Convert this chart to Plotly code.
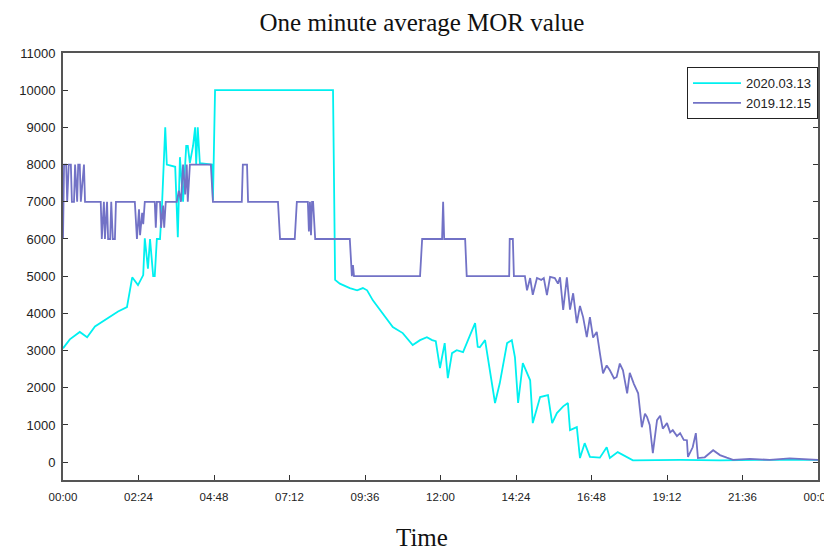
import plotly.graph_objects as go

# ---- data (minute of day, value) ----
cyan_min = [0, 13, 32, 46, 61, 90, 105, 122, 132, 143, 153, 156, 162, 166, 172, 175, 179, 185,
            189, 195, 198, 214, 219, 223, 229, 235, 238, 242, 248, 252, 254, 257, 261, 284, 286,
            290, 515, 519, 528, 547, 561, 572, 580, 591, 610, 629, 648, 667, 681, 694, 704, 711,
            719, 728, 734, 742, 751, 763, 776, 786, 791, 795, 805, 814, 824, 833, 847, 856, 862,
            868, 877, 891, 896, 910, 925, 933, 942, 954, 963, 967, 980, 986, 995, 1005, 1024,
            1037, 1043, 1058, 1076, 1087, 1177, 1253, 1329, 1440]
cyan_val = [3060, 3300, 3500, 3360, 3650, 3900, 4050, 4170, 4970, 4760, 5030, 6020, 5200, 6000,
            5000, 5000, 6000, 6000, 6960, 9000, 8000, 7940, 6050, 8200, 7000, 8500, 8500, 8040,
            8500, 9000, 8000, 9000, 8040, 8000, 7040, 10000, 10000, 4900, 4800, 4680, 4620, 4680,
            4620, 4350, 4000, 3630, 3470, 3150, 3280, 3360, 3280, 3250, 2530, 3200, 2260, 2930,
            3010, 2960, 3400, 3740, 3100, 3090, 3280, 2470, 1590, 2120, 3200, 3280, 2820, 1590,
            2660, 2200, 1050, 1750, 1800, 1050, 1320, 1500, 1590, 860, 940, 110, 510, 140, 120,
            400, 110, 270, 140, 50, 60, 50, 60, 60]

blue_min = [0, 2, 6, 8, 11, 15, 17, 21, 23, 27, 29, 32, 34, 40, 42, 72, 74, 78, 80, 84, 86, 90,
            92, 95, 99, 101, 137, 141, 145, 147, 151, 153, 156, 175, 177, 179, 185, 187, 191, 193,
            196, 217, 221, 225, 229, 233, 236, 238, 242, 282, 286, 341, 343, 351, 353, 410, 414,
            442, 446, 467, 469, 471, 473, 475, 477, 481, 547, 551, 553, 555, 681, 685, 723, 725,
            727, 767, 770, 851, 852, 858, 860, 881, 885, 891, 896, 904, 912, 917, 923, 929, 938,
            944, 948, 954, 961, 967, 973, 980, 986, 992, 999, 1005, 1011, 1018, 1024, 1030, 1037,
            1043, 1051, 1056, 1062, 1068, 1076, 1081, 1089, 1097, 1104, 1110, 1114, 1119, 1125,
            1133, 1139, 1144, 1152, 1158, 1163, 1171, 1177, 1184, 1190, 1192, 1201, 1207, 1211,
            1224, 1240, 1253, 1266, 1278, 1310, 1348, 1386, 1440]
blue_val = [6000, 8000, 8000, 7000, 8000, 8000, 7000, 7000, 8000, 7000, 8000, 8000, 7000, 8000,
            7000, 7000, 6000, 7000, 6000, 7000, 6000, 6000, 7000, 6000, 6000, 7000, 7000, 6000,
            6800, 6100, 6700, 6400, 7000, 7000, 6300, 7000, 7000, 6300, 6900, 6300, 7000, 7000,
            7300, 7000, 8000, 7200, 8000, 7000, 8000, 8000, 7000, 7000, 8000, 8000, 7000, 7000,
            6000, 6000, 7000, 7000, 6200, 7000, 6100, 7000, 7000, 6000, 6000, 5000, 5300, 5000,
            5000, 6000, 6000, 7000, 6000, 6000, 5000, 5000, 6000, 6000, 5000, 5000, 4620, 4950,
            4500, 4950, 4900, 4950, 4490, 4980, 4950, 4800, 4970, 4090, 4970, 4100, 4540, 3740,
            4200, 3900, 3360, 3900, 3350, 3500, 2930, 2390, 2600, 2470, 2250, 2290, 2650, 2470,
            1850, 2400, 2100, 1850, 940, 1300, 1210, 1000, 240, 1130, 1250, 900, 1050, 800, 860,
            700, 780, 600, 590, 140, 400, 780, 110, 130, 320, 190, 120, 60, 90, 60, 100, 60]

tick_minutes = [0, 144, 288, 432, 576, 720, 864, 1008, 1152, 1296, 1440]
tick_labels = ["00:00", "02:24", "04:48", "07:12", "09:36", "12:00", "14:24", "16:48",
               "19:12", "21:36", "00:00"]
y_ticks = list(range(0, 11001, 1000))
y_labels = [str(v) for v in y_ticks]

fig = go.Figure()
fig.add_trace(go.Scatter(x=cyan_min, y=cyan_val, mode="lines", name="2020.03.13",
                         line=dict(color="#00F0F0", width=1.8)))
fig.add_trace(go.Scatter(x=blue_min, y=blue_val, mode="lines", name="2019.12.15",
                         line=dict(color="#7272C6", width=1.8)))

W, H = 824, 542
y_font = dict(family="Liberation Sans", size=13, color="#222222")
x_font = dict(family="Liberation Sans", size=11.5, color="#222222")
fig.update_layout(
    width=W, height=H,
    margin=dict(l=55, r=14, t=45, b=70, autoexpand=False),
    paper_bgcolor="white", plot_bgcolor="white",
    title=dict(text="One minute average MOR value", x=414 / W, xref="container",
               y=1 - 14 / H, yanchor="middle", xanchor="center",
               font=dict(family="Liberation Serif", size=25, color="#111111")),
    showlegend=True,
    legend=dict(x=1, xanchor="right", y=0.967, yanchor="top",
                bordercolor="#222222", borderwidth=1, bgcolor="white",
                font=dict(family="Liberation Sans", size=13, color="#222222"),
                tracegroupgap=0, itemwidth=48),
    xaxis=dict(range=[0, 1440], tickvals=tick_minutes, ticktext=tick_labels,
               ticks="inside", ticklen=5, tickcolor="#333333", showgrid=False,
               zeroline=False, showline=True, linecolor="#555555", linewidth=2,
               mirror=True, tickfont=x_font, automargin=False, ticklabelstandoff=5,
               ticklabeloverflow="allow"),
    yaxis=dict(range=[-480, 11000], tickvals=y_ticks, ticktext=y_labels, ticks="inside",
               ticklen=5, tickcolor="#333333", showgrid=False, zeroline=False, showline=True,
               linecolor="#555555", linewidth=2, mirror="ticks", tickfont=y_font,
               automargin=False, ticklabelstandoff=3, ticklabeloverflow="allow"),
    annotations=[dict(text="Time", xref="paper", yref="paper", x=(422 - 63) / 755,
                      y=(480 - 537) / 427, xanchor="center", yanchor="middle",
                      showarrow=False,
                      font=dict(family="Liberation Serif", size=25, color="#111111"))],
)

fig.write_html("out.html")
